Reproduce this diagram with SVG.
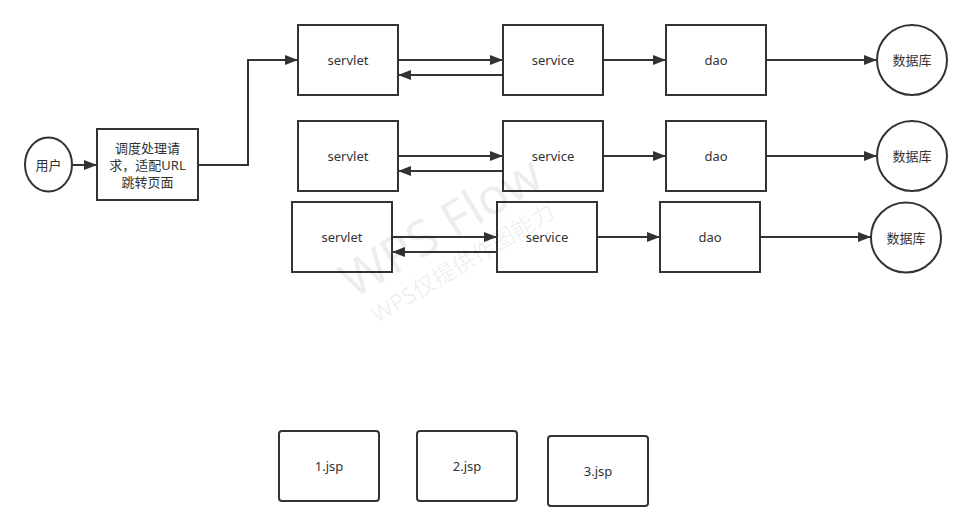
<svg xmlns="http://www.w3.org/2000/svg" width="972" height="531" viewBox="0 0 972 531">
<defs>
<marker id="arr" markerWidth="13" markerHeight="10" refX="13" refY="5" orient="auto" markerUnits="userSpaceOnUse">
<path d="M0,0 L13,5 L0,10 Z" fill="#333"/>
</marker>
<style>
.box{fill:#fff;stroke:#333;stroke-width:2}
.t{font-family:"Microsoft YaHei","Noto Sans","Noto Sans CJK SC",sans-serif;font-size:13px;fill:#333;text-anchor:middle;dominant-baseline:central}
.c{fill:none;stroke:#333;stroke-width:2;marker-end:url(#arr)}
.wm{font-family:"Noto Sans","Noto Sans CJK SC",sans-serif;fill:#000;fill-opacity:0.07;text-anchor:middle}
</style>
</defs>
<rect width="972" height="531" fill="#fff"/>
<g id="connectors">
<path class="c" d="M72,165 H97"/>
<path class="c" d="M198,165 H248 V60 H298"/>
<path class="c" d="M398,60 H503"/>
<path class="c" d="M503,75 H398"/>
<path class="c" d="M603,60 H666"/>
<path class="c" d="M766,60 H877"/>
<path class="c" d="M398,156 H503"/>
<path class="c" d="M503,171 H398"/>
<path class="c" d="M603,156 H666"/>
<path class="c" d="M766,156 H877"/>
<path class="c" d="M392,237 H497"/>
<path class="c" d="M497,252 H392"/>
<path class="c" d="M597,237 H660"/>
<path class="c" d="M760,237 H871"/>
</g>
<g id="user"><ellipse class="box" cx="48.5" cy="164.5" rx="23.5" ry="27"/><text class="t" x="48.5" y="164.5">用户</text></g>
<g id="dispatcher"><rect class="box" x="97" y="129" width="101" height="71"/>
<text class="t" x="147.5" y="148">调度处理请</text>
<text class="t" x="147.5" y="165">求，适配URL</text>
<text class="t" x="147.5" y="182">跳转页面</text></g>
<g id="servlet1"><rect class="box" x="298" y="25" width="100" height="70"/><text class="t" x="348" y="60">servlet</text></g>
<g id="service1"><rect class="box" x="503" y="25" width="100" height="70"/><text class="t" x="553" y="60">service</text></g>
<g id="dao1"><rect class="box" x="666" y="25" width="100" height="70"/><text class="t" x="716" y="60">dao</text></g>
<g id="db1"><circle class="box" cx="912" cy="60" r="35"/><text class="t" x="912" y="60">数据库</text></g>
<g id="servlet2"><rect class="box" x="298" y="121" width="100" height="70"/><text class="t" x="348" y="156">servlet</text></g>
<g id="service2"><rect class="box" x="503" y="121" width="100" height="70"/><text class="t" x="553" y="156">service</text></g>
<g id="dao2"><rect class="box" x="666" y="121" width="100" height="70"/><text class="t" x="716" y="156">dao</text></g>
<g id="db2"><circle class="box" cx="912" cy="156" r="35"/><text class="t" x="912" y="156">数据库</text></g>
<g id="servlet3"><rect class="box" x="292" y="202" width="100" height="70"/><text class="t" x="342" y="237">servlet</text></g>
<g id="service3"><rect class="box" x="497" y="202" width="100" height="70"/><text class="t" x="547" y="237">service</text></g>
<g id="dao3"><rect class="box" x="660" y="202" width="100" height="70"/><text class="t" x="710" y="237">dao</text></g>
<g id="db3"><circle class="box" cx="906" cy="237.5" r="35"/><text class="t" x="906" y="237.5">数据库</text></g>
<g id="jsp1"><rect class="box" x="279" y="431" width="100" height="70" rx="3"/><text class="t" x="329" y="466">1.jsp</text></g>
<g id="jsp2"><rect class="box" x="417" y="431" width="100" height="70" rx="3"/><text class="t" x="467" y="466">2.jsp</text></g>
<g id="jsp3"><rect class="box" x="548" y="436" width="100" height="70" rx="3"/><text class="t" x="598" y="471">3.jsp</text></g>
<g id="watermark">
<text class="wm" x="450" y="242" font-size="50" transform="rotate(-31 450 242)">WPS Flow</text>
<text class="wm" x="467" y="270" font-size="23" transform="rotate(-31 467 270)">WPS仅提供作图能力</text>
</g>
</svg>
